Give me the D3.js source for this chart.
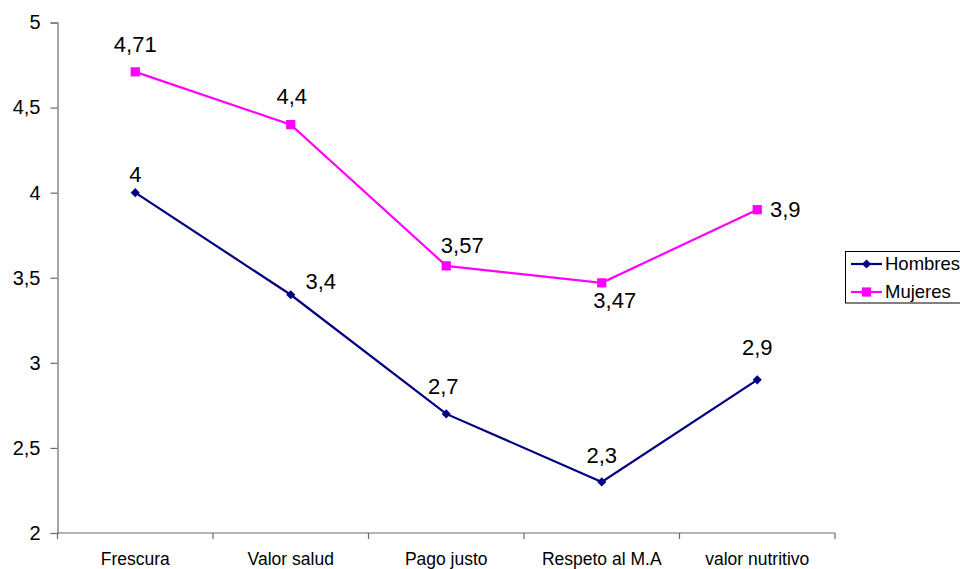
<!DOCTYPE html>
<html>
<head>
<meta charset="utf-8">
<script src="https://cdn.jsdelivr.net/npm/d3@7"></script>
<style>
  html, body { margin: 0; padding: 0; background: #fff; }
  svg { display: block; font-family: "Liberation Sans", Arial, sans-serif; }
</style>
</head>
<body>
<svg id="chart" width="960" height="569"></svg>
<script>
// Chart data
const categories = ["Frescura", "Valor salud", "Pago justo", "Respeto al M.A", "valor nutritivo"];
const hombres = [4, 3.4, 2.7, 2.3, 2.9];
const mujeres = [4.71, 4.4, 3.57, 3.47, 3.9];
const yTicks = [2, 2.5, 3, 3.5, 4, 4.5, 5];
const seriesNames = ["Hombres", "Mujeres"];

// Layout
const plot = { left: 57.5, right: 835, top: 22.5, bottom: 533 };
const fmt = v => String(v).replace(".", ",");

// Label placement (dx, dy of the text centre relative to the point)
const labelPlacement = {
  Hombres: [[0, -18], [30, -13], [-3, -28], [0, -27], [0, -33]],
  Mujeres: [[0, -28], [1, -28], [16, -21], [13, 17], [28, 0]]
};

const svg = d3.select("#chart");

const x = d3.scaleBand().domain(categories).range([plot.left, plot.right]).padding(0);
const y = d3.scaleLinear().domain([2, 5]).range([plot.bottom, plot.top]);

const axisColor = "#6a6a6a";

// Y axis
const yAxis = svg.append("g")
  .attr("transform", `translate(${plot.left},0)`)
  .call(d3.axisLeft(y).tickValues(yTicks).tickSize(7).tickPadding(10).tickFormat(fmt));
yAxis.select(".domain").attr("stroke", axisColor).attr("stroke-width", 1.2);
yAxis.selectAll(".tick line").attr("stroke", axisColor).attr("stroke-width", 1.2);
yAxis.selectAll(".tick text")
  .attr("font-size", 20).attr("fill", "#000")
  .attr("font-family", "Liberation Sans, Arial, sans-serif");

// X axis (ticks between categories)
const xAxisG = svg.append("g").attr("transform", `translate(0,${plot.bottom})`);
xAxisG.append("line")
  .attr("x1", plot.left).attr("x2", plot.right)
  .attr("stroke", axisColor).attr("stroke-width", 1.2);
const boundaries = categories.map(c => x(c)).concat([x(categories[categories.length - 1]) + x.bandwidth()]);
xAxisG.selectAll("line.tick").data(boundaries).enter().append("line")
  .attr("class", "tick")
  .attr("x1", d => d).attr("x2", d => d)
  .attr("y1", 0).attr("y2", 6)
  .attr("stroke", axisColor).attr("stroke-width", 1.2);
xAxisG.selectAll("text").data(categories).enter().append("text")
  .attr("x", d => x(d) + x.bandwidth() / 2)
  .attr("y", 32)
  .attr("text-anchor", "middle")
  .attr("font-size", 17.5)
  .attr("fill", "#000")
  .text(d => d);

const cx = (d, i) => x(categories[i]) + x.bandwidth() / 2;
const line = d3.line().x(cx).y(d => y(d));

// Diamond drawn as a square turned 45 degrees
const series = [
  { name: "Hombres", values: hombres, color: "#000080", marker: d3.symbolSquare, size: 42, rotate: 45 },
  { name: "Mujeres", values: mujeres, color: "#ff00ff", marker: d3.symbolSquare, size: 85, rotate: 0 }
];

series.forEach(s => {
  svg.append("path")
    .datum(s.values)
    .attr("d", line)
    .attr("fill", "none")
    .attr("stroke", s.color)
    .attr("stroke-width", 2.2);

  svg.selectAll(null).data(s.values).enter().append("path")
    .attr("d", d3.symbol().type(s.marker).size(s.size))
    .attr("transform", (d, i) => `translate(${cx(d, i)},${y(d)}) rotate(${s.rotate})`)
    .attr("fill", s.color);

  svg.selectAll(null).data(s.values).enter().append("text")
    .attr("x", (d, i) => cx(d, i) + labelPlacement[s.name][i][0])
    .attr("y", (d, i) => y(d) + labelPlacement[s.name][i][1])
    .attr("dy", "0.35em")
    .attr("text-anchor", "middle")
    .attr("font-size", 22)
    .attr("fill", "#000")
    .text(d => fmt(d));
});

// Legend
const legend = svg.append("g");
legend.append("rect")
  .attr("x", 845.5).attr("y", 251.5)
  .attr("width", 130).attr("height", 51.5)
  .attr("fill", "#fff").attr("stroke", "#000").attr("stroke-width", 1);
series.forEach((s, i) => {
  const ly = 264 + i * 28;
  legend.append("line")
    .attr("x1", 851).attr("x2", 882).attr("y1", ly).attr("y2", ly)
    .attr("stroke", s.color).attr("stroke-width", 2.2);
  legend.append("path")
    .attr("d", d3.symbol().type(s.marker).size(s.size))
    .attr("transform", `translate(866.5,${ly}) rotate(${s.rotate})`)
    .attr("fill", s.color);
  legend.append("text")
    .attr("x", 885).attr("y", ly).attr("dy", "0.35em")
    .attr("font-size", 18.5).attr("fill", "#000")
    .text(seriesNames[i]);
});
</script>
</body>
</html>
